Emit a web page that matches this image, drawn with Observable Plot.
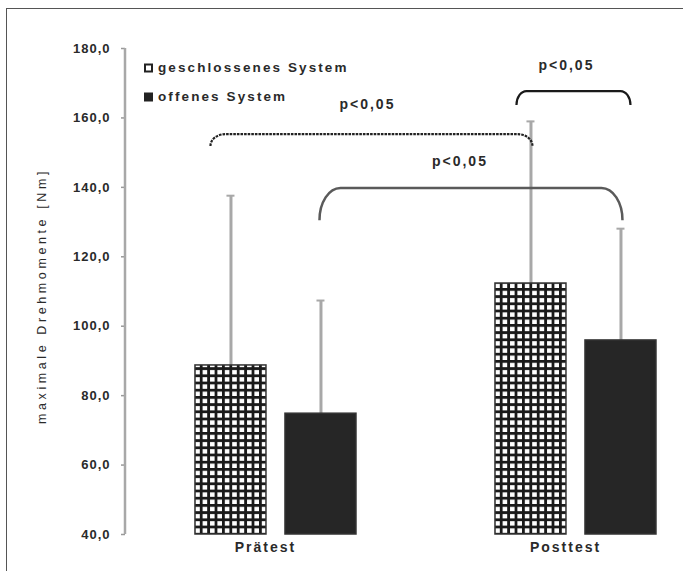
<!DOCTYPE html>
<html><head><meta charset="utf-8">
<script src="https://cdn.jsdelivr.net/npm/d3@7"></script>
<script src="https://cdn.jsdelivr.net/npm/@observablehq/plot@0.6"></script>
<style>
html,body{margin:0;padding:0;background:#fff;}
#wrap{position:relative;width:683px;height:571px;overflow:hidden;background:#fff;}
#wrap svg{position:absolute;left:0;top:0;overflow:visible;}
#wrap svg text{font-family:"Liberation Sans",Arial,sans-serif;}
#frame{position:absolute;left:6px;top:8px;width:700px;height:600px;border-top:1.5px solid #555;border-left:1.5px solid #555;pointer-events:none;}
</style></head><body><div id="wrap"><div id="frame"></div></div>
<script>
// ---- data ----
const groups = ["Prätest", "Posttest"];
const systems = ["geschlossenes System", "offenes System"];
const meanGeschlossen = [88.7, 112.3];
const meanOffen = [74.8, 95.9];
const upperGeschlossen = [137.6, 159.0];
const upperOffen = [107.4, 128.1];
const yTicks = [40, 60, 80, 100, 120, 140, 160, 180];
const yLabel = "maximale Drehmomente [Nm]";
const pText = "p<0,05";
// significance brackets: endpoints (group, system), top value, end value, label value
const bracketFrom = [["Prätest", "geschlossenes System"], ["Prätest", "offenes System"], ["Posttest", "geschlossenes System"]];
const bracketTo = [["Posttest", "geschlossenes System"], ["Posttest", "offenes System"], ["Posttest", "offenes System"]];
const bracketTop = [155.2, 139.7, 167.6];
const bracketEnd = [151.8, 130.4, 163.6];
const bracketLabelY = [163.6, 147.2, 174.8];

// ---- styling (positions/sizes) ----
const bracketStyle = [
  {dx1: -20, dx2: 2, rx: 15, ry: 11, stroke: "#222", width: 2.2, dash: "2.6,1", ldx: -4},
  {dx1: -1, dx2: 2, rx: 21, ry: 31, stroke: "#5a5a5a", width: 2.5, dash: null, ldx: -11},
  {dx1: -14, dx2: 10, rx: 10, ry: 14, stroke: "#1a1a1a", width: 2.2, dash: null, ldx: -7}
];

const rows = [];
groups.forEach((g, i) => {
  rows.push({group: g, system: systems[0], mean: meanGeschlossen[i], upper: upperGeschlossen[i]});
  rows.push({group: g, system: systems[1], mean: meanOffen[i], upper: upperOffen[i]});
});
const fmt = d => d.toFixed(1).replace(".", ",");

const chart = Plot.plot({
  width: 683, height: 571,
  marginTop: 48, marginBottom: 37, marginLeft: 125, marginRight: 0,
  style: {background: "transparent", fontFamily: "Liberation Sans, Arial, sans-serif", overflow: "visible"},
  fx: {domain: groups, range: [125, 705], paddingInner: 1/15, paddingOuter: 0, round: false},
  x: {domain: systems, paddingInner: 0.2111, paddingOuter: 0.661, align: 0.588, round: false, axis: null},
  y: {domain: [40, 180], label: null},
  marks: [
    Plot.axisY({ticks: yTicks, tickFormat: fmt, tickSize: 4, tickPadding: 11, stroke: "#999", strokeWidth: 1.5, fill: "#2a2a2a", fontSize: 13, fontWeight: "bold", label: null}),
    Plot.axisFx({anchor: "bottom", tickSize: 0, tickPadding: 8, fill: "#2a2a2a", fontSize: 14, fontWeight: "bold", label: null}),
    Plot.ruleX(rows, {fx: "group", x: "system", y1: "mean", y2: "upper", stroke: "#a8a8a8", strokeWidth: 3}),
    Plot.tickY(rows, {fx: "group", x: "system", y: "upper", stroke: "#a8a8a8", strokeWidth: 2, insetLeft: 31.5, insetRight: 31.5}),
    Plot.barY(rows.filter(d => d.system === systems[0]), {fx: "group", x: "system", y1: 40, y2: "mean", fill: "url(#grid)", stroke: "#333", strokeWidth: 1.5}),
    Plot.barY(rows.filter(d => d.system === systems[1]), {fx: "group", x: "system", y1: 40, y2: "mean", fill: "#262626", stroke: "#333", strokeWidth: 1.5})
  ]
});
document.getElementById("wrap").appendChild(chart);

const svg = d3.select(chart);
svg.selectAll("text").style("letter-spacing", "1px");
svg.selectAll("[aria-label='fx-axis tick label'] text, [aria-label='fx-axis tick label']").style("letter-spacing", "2px");

// hatch pattern
const defs = svg.insert("defs", ":first-child");
const pat = defs.append("pattern").attr("id", "grid").attr("patternUnits", "userSpaceOnUse").attr("width", 7.4).attr("height", 7.2);
pat.append("rect").attr("width", 7.4).attr("height", 7.2).attr("fill", "#fff");
pat.append("rect").attr("width", 7.4).attr("height", 2.8).attr("fill", "#1a1a1a");
pat.append("rect").attr("width", 2.8).attr("height", 7.2).attr("fill", "#1a1a1a");

const fxS = chart.scale("fx"), xS = chart.scale("x"), yS = chart.scale("y");
const xOff = Math.min(...xS.range);
const cx = (g, s) => fxS.apply(g) + (xS.apply(s) - xOff) + xS.bandwidth / 2;
const ann = svg.append("g").attr("text-anchor", "start");

// y axis line
const x0 = fxS.apply(groups[0]);
ann.append("line").attr("x1", x0).attr("x2", x0).attr("y1", yS.apply(180)).attr("y2", yS.apply(40))
  .attr("stroke", "#a8a8a8").attr("stroke-width", 2.5);

// y axis label
ann.append("text").attr("transform", `translate(43,${(yS.apply(40) + yS.apply(180)) / 2 + 5}) rotate(-90)`)
  .attr("text-anchor", "middle").attr("dominant-baseline", "middle")
  .attr("font-size", 12.5).attr("fill", "#2a2a2a").style("letter-spacing", "3.6px").text(yLabel);

// brackets
bracketFrom.forEach((f, i) => {
  const st = bracketStyle[i];
  const x1 = cx(f[0], f[1]) + st.dx1, x2 = cx(bracketTo[i][0], bracketTo[i][1]) + st.dx2;
  const yt = yS.apply(bracketTop[i]), ye = yS.apply(bracketEnd[i]);
  const ry = ye - yt;
  const d = `M${x1},${ye} A${st.rx},${ry} 0 0 1 ${x1 + st.rx},${yt} L${x2 - st.rx},${yt} A${st.rx},${ry} 0 0 1 ${x2},${ye}`;
  const p = ann.append("path").attr("d", d).attr("fill", "none").attr("stroke", st.stroke).attr("stroke-width", st.width);
  if (st.dash) p.attr("stroke-dasharray", st.dash);
  ann.append("text").attr("x", (x1 + x2) / 2 + st.ldx).attr("y", yS.apply(bracketLabelY[i]))
    .attr("text-anchor", "middle").attr("dominant-baseline", "middle")
    .attr("font-size", 14).attr("font-weight", "bold").attr("fill", "#2a2a2a").style("letter-spacing", "2px").text(pText);
});

// legend
const legY = [68, 97];
systems.forEach((s, i) => {
  ann.append("rect").attr("x", 145).attr("y", legY[i] - 3.5).attr("width", 7).attr("height", 7)
    .attr("fill", i === 0 ? "#fff" : "#222").attr("stroke", "#222").attr("stroke-width", 2);
  ann.append("text").attr("x", 158).attr("y", legY[i]).attr("text-anchor", "start").attr("dominant-baseline", "middle")
    .attr("font-size", 13.5).attr("font-weight", "bold").attr("fill", "#2a2a2a").style("letter-spacing", "2.1px").text(s);
});
</script></body></html>
